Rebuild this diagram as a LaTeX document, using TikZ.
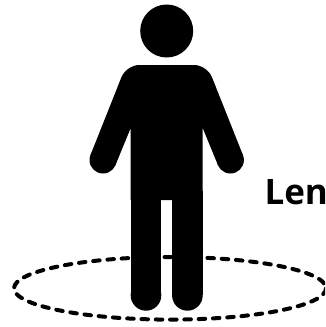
\documentclass[tikz,border=0pt]{standalone}
\usepackage{fontspec}
\setmainfont{Open Sans}
\tikzset{figure/.style={fill=black,draw=none},
ring/.style={draw=black,line width=4pt,dash pattern=on 6.5pt off 7.8pt,line cap=round},
limb/.style={draw=black,line width=30.6pt,line cap=butt}}
\begin{document}
\begin{tikzpicture}[x=1pt,y=-1pt,every node/.style={inner sep=0pt,outer sep=0pt}]
\path[use as bounding box] (0,0) rectangle (325,327);
\clip (0,0) rectangle (325,327);
% head
\fill[figure] (166.7,31) circle (26.5);
% arms and shoulders
\fill[figure] (115.5,165) -- (90.5,155) [rounded corners=13pt] -- (126.3,65) -- (207.1,65) [sharp corners] -- (242.9,155) -- (217.9,165) -- (202.7,128) -- (202.7,200) -- (130.7,200) -- (130.7,128) -- cycle;
\fill[figure] (103,160) circle (13.5);
\fill[figure] (230.4,160) circle (13.5);
% legs
\coordinate (lt) at (146,190.7);
\coordinate (lb) at (146,295.4);
\coordinate (rt) at (187.4,190.7);
\coordinate (rb) at (187.4,295.4);
\draw[limb] (lt) -- (lb);
\draw[limb] (rt) -- (rb);
\fill[figure] (lb) circle (15.3);
\fill[figure] (rb) circle (15.3);
\node[anchor=base west,font=\bfseries\fontsize{35}{35}\selectfont] (t) at (264.5,204) {Len};
\node[minimum size=0pt] (c) at (170,288.3) {};
\draw[ring] (c) ellipse [x radius=156,y radius=31.3];
\end{tikzpicture}
\end{document}
